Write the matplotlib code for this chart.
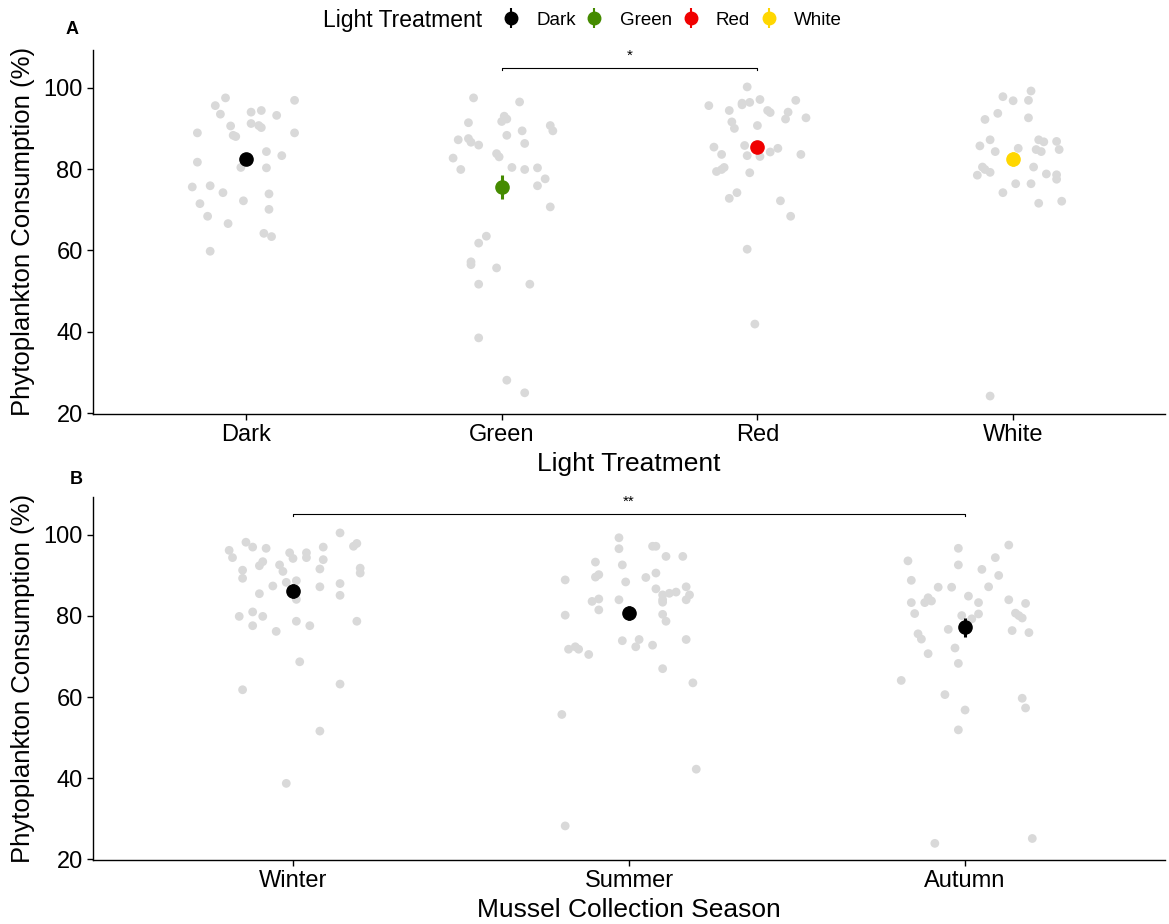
import matplotlib
matplotlib.use("Agg")
import matplotlib.pyplot as plt
from matplotlib.lines import Line2D
from matplotlib.legend_handler import HandlerTuple

plt.rcParams['font.family'] = ['Liberation Sans', 'DejaVu Sans']

# ---------------- data ----------------
treatments = ["Dark", "Green", "Red", "White"]
treat_colors = ["#000000", "#458B00", "#F00000", "#FFD700"]
treat_mean = [82.5, 75.6, 85.4, 82.5]
treat_se = [1.4, 3.0, 1.5, 1.8]

dark_dx = [-0.08, -0.12, -0.10, 0.19, 0.02, 0.06, 0.12, -0.06, 0.02, 0.05, 0.06, -0.19, -0.05, -0.04, 0.19, 0.08,
           0.14, -0.19, -0.02, 0.08, -0.21, -0.14, -0.09, 0.09, -0.18, -0.01, 0.09, -0.15, -0.07, 0.07, 0.10, -0.14]
dark_y = [97.5, 95.6, 93.5, 96.9, 94.0, 94.4, 93.2, 90.6, 91.2, 90.7, 90.2, 88.9, 88.3, 88.0, 88.9, 84.3,
          83.3, 81.7, 80.4, 80.3, 75.6, 75.9, 74.2, 73.9, 71.5, 72.2, 70.1, 68.4, 66.6, 64.2, 63.4, 59.8]

green_dx = [-0.11, 0.07, 0.01, 0.02, 0.00, -0.13, 0.19, 0.20, 0.08, -0.17, -0.13, -0.12, -0.09, 0.02, 0.09, -0.19,
            -0.02, -0.01, -0.16, 0.04, 0.09, 0.14, 0.17, 0.14, 0.19, -0.06, -0.09, -0.12, -0.12, -0.02, -0.09, 0.11,
            -0.09, 0.02, 0.09]
green_y = [97.5, 96.5, 93.0, 92.3, 91.7, 91.4, 90.7, 89.4, 89.4, 87.2, 87.5, 86.6, 85.9, 88.3, 86.3, 82.7,
           83.8, 83.0, 79.9, 80.4, 79.9, 80.3, 77.6, 75.9, 70.7, 63.5, 61.8, 57.2, 56.5, 55.7, 51.7, 51.7,
           38.5, 28.1, 25.0]

red_dx = [-0.04, -0.19, -0.11, -0.06, -0.06, -0.03, 0.01, 0.04, 0.05, 0.12, 0.11, 0.15, 0.19, -0.10, -0.09, 0.00,
          -0.17, -0.14, -0.05, -0.04, 0.01, 0.05, 0.08, 0.17, -0.16, -0.14, -0.13, -0.03, -0.08, -0.11, 0.09, 0.13,
          -0.04, -0.01]
red_y = [100.2, 95.6, 94.4, 95.8, 96.2, 96.4, 97.1, 94.4, 93.9, 94.0, 92.3, 96.9, 92.6, 91.6, 90.0, 90.7,
         85.4, 83.6, 85.8, 83.3, 83.1, 84.2, 85.1, 83.6, 79.4, 79.9, 80.4, 79.1, 74.2, 72.8, 72.2, 68.4,
         60.3, 41.9]

white_dx = [0.07, -0.04, 0.00, 0.06, -0.06, -0.11, 0.06, -0.09, -0.13, -0.07, 0.02, 0.10, 0.12, 0.17, 0.09, 0.11,
            0.18, -0.12, -0.11, -0.09, -0.14, 0.08, 0.13, 0.17, 0.17, 0.01, 0.07, -0.04, 0.10, 0.19, -0.09]
white_y = [99.2, 97.8, 96.8, 96.9, 93.7, 92.2, 92.6, 87.2, 85.7, 84.3, 85.1, 87.2, 86.7, 86.8, 84.8, 84.3,
           84.8, 80.5, 79.9, 79.2, 78.5, 80.5, 78.8, 78.6, 77.5, 76.4, 76.4, 74.2, 71.6, 72.1, 24.2]

seasons = ["Winter", "Summer", "Autumn"]
season_mean = [86.2, 80.7, 77.2]
season_se = [1.8, 1.7, 2.4]

winter_dx = [0.14, -0.14, -0.12, -0.08, -0.19, -0.18, -0.01, 0.00, 0.04, 0.04, 0.09, 0.18, 0.19, 0.09, -0.09, -0.10,
             -0.04, -0.03, -0.15, -0.15, 0.08, 0.20, 0.20, -0.06, -0.02, 0.01, 0.08, 0.14, 0.14, -0.10, 0.01, -0.12,
             -0.16, -0.09, -0.12, -0.05, 0.01, 0.05, 0.19, 0.02, -0.15, 0.14, 0.08, -0.02]
winter_y = [100.5, 98.2, 97.0, 96.7, 96.2, 94.4, 95.6, 94.2, 95.6, 94.4, 97.0, 97.2, 97.9, 93.9, 93.4, 92.4,
            92.6, 91.0, 91.3, 89.3, 91.6, 91.8, 90.6, 87.4, 88.3, 88.7, 87.2, 88.0, 85.1, 85.5, 84.1, 81.0,
            79.9, 79.9, 77.6, 76.2, 78.7, 77.6, 78.7, 68.7, 61.8, 63.2, 51.6, 38.7]

summer_dx = [-0.03, -0.03, 0.07, 0.08, 0.11, 0.16, -0.10, -0.02, -0.19, -0.10, -0.09, -0.01, 0.05, 0.08, 0.08, 0.10,
             0.10, 0.10, 0.12, 0.14, 0.17, 0.18, 0.17, -0.11, -0.09, -0.09, -0.03, -0.19, 0.10, 0.11, -0.02, 0.03,
             0.02, 0.07, 0.17, -0.18, -0.16, -0.15, -0.12, 0.10, 0.19, -0.20, 0.20, -0.19]
summer_y = [99.3, 96.6, 97.2, 97.2, 94.7, 94.7, 93.3, 92.6, 88.9, 89.6, 90.2, 88.4, 89.5, 90.6, 86.7, 85.2,
            84.0, 83.4, 85.6, 85.9, 87.2, 85.2, 84.0, 83.6, 84.2, 81.5, 84.0, 80.2, 80.4, 78.7, 73.9, 74.2,
            72.4, 72.8, 74.2, 71.8, 72.4, 71.8, 70.5, 67.0, 63.5, 55.7, 42.2, 28.2]

autumn_dx = [0.13, -0.02, -0.17, 0.09, -0.02, 0.05, 0.10, -0.16, -0.08, -0.04, 0.07, 0.01, 0.04, 0.13, 0.18, -0.16,
             -0.12, -0.11, -0.10, -0.15, -0.01, 0.02, 0.04, 0.15, 0.16, 0.17, -0.05, 0.14, 0.19, -0.14, -0.13, -0.03,
             -0.11, -0.02, -0.19, -0.06, 0.17, 0.18, 0.00, -0.02, -0.09, 0.20]
autumn_y = [97.5, 96.7, 93.6, 94.4, 92.6, 91.5, 90.0, 88.8, 87.1, 87.1, 87.2, 84.9, 83.3, 84.0, 83.1, 83.3,
            83.3, 84.5, 83.7, 80.6, 80.1, 79.3, 80.5, 80.7, 80.1, 79.5, 76.7, 76.4, 75.9, 75.6, 74.3, 72.1,
            70.7, 68.3, 64.1, 60.6, 59.7, 57.3, 56.8, 51.9, 23.9, 25.1]

treat_points = [(dark_dx, dark_y), (green_dx, green_y), (red_dx, red_y), (white_dx, white_y)]
season_points = [(winter_dx, winter_y), (summer_dx, summer_y), (autumn_dx, autumn_y)]

yticks = [20, 40, 60, 80, 100]
POINT_GREY = "#D9D9D9"


def style_axes(ax):
    for s in ["top", "right"]:
        ax.spines[s].set_visible(False)
    for s in ["left", "bottom"]:
        ax.spines[s].set_linewidth(1.0)
        ax.spines[s].set_color("black")
    ax.tick_params(axis="both", length=4, width=1, labelsize=17, colors="black")
    ax.set_yticks(yticks)


def draw_panel(ax, cats, points, means, ses, colors):
    for i, (dx, yy) in enumerate(points):
        xs = [i + d for d in dx]
        ax.scatter(xs, yy, s=40, color=POINT_GREY, edgecolors="none", zorder=1)
    for i, (m, se, c) in enumerate(zip(means, ses, colors)):
        ax.errorbar(i, m, yerr=se, fmt="o", color=c, ms=9.5, elinewidth=2.2, capsize=0, zorder=3)
    ax.set_xticks(range(len(cats)))
    ax.set_xticklabels(cats)


def bracket(ax, x0, x1, y, label):
    ax.plot([x0, x0, x1, x1], [y - 0.6, y, y, y - 0.6], color="black", lw=0.8, zorder=2)
    ax.text((x0 + x1) / 2, y + 1.2, label, ha="center", va="bottom", fontsize=11)


fig = plt.figure(figsize=(11.69, 9.24), dpi=100)
axA = fig.add_axes([0.0796, 0.552, 0.917, 0.394])
axB = fig.add_axes([0.0796, 0.0693, 0.917, 0.393])

draw_panel(axA, treatments, treat_points, treat_mean, treat_se, treat_colors)
style_axes(axA)
axA.set_xlim(-0.598, 3.594)
axA.set_ylim(19.8, 109.3)
axA.set_xlabel("Light Treatment", fontsize=19, labelpad=4)
axA.set_ylabel("Phytoplankton Consumption (%)", fontsize=18.5, labelpad=6)
bracket(axA, 1, 2, 104.9, "*")

season_colors = ["#000000"] * len(seasons)
draw_panel(axB, seasons, season_points, season_mean, season_se, season_colors)
style_axes(axB)
axB.set_xlim(-0.595, 2.595)
axB.set_ylim(19.8, 109.4)
axB.set_xlabel("Mussel Collection Season", fontsize=19, labelpad=4)
axB.set_ylabel("Phytoplankton Consumption (%)", fontsize=18.5, labelpad=6)
bracket(axB, 0, 2, 105.2, "**")

fig.text(72 / 1169, 1 - 30 / 924, "A", fontsize=13, fontweight="bold", ha="center", va="center")
fig.text(76 / 1169, 1 - 480 / 924, "B", fontsize=13, fontweight="bold", ha="center", va="center")

# legend on top
fig.text(323 / 1169, 1 - 20 / 924, "Light Treatment", fontsize=16.5, ha="left", va="center")
handles = []
for c in treat_colors:
    bar = Line2D([], [], color=c, marker="|", ms=15, mew=1.5, linestyle="none")
    dot = Line2D([], [], color=c, marker="o", ms=9, linestyle="none")
    handles.append((bar, dot))
fig.legend(handles, treatments, handler_map={tuple: HandlerTuple(ndivide=1)},
           loc="center left", bbox_to_anchor=(492 / 1169, 1 - 20 / 924), ncol=4, frameon=False,
           fontsize=13.5, handlelength=1.0, handletextpad=0.85, columnspacing=0.5, borderpad=0)

fig.savefig("out.png", dpi=100)
